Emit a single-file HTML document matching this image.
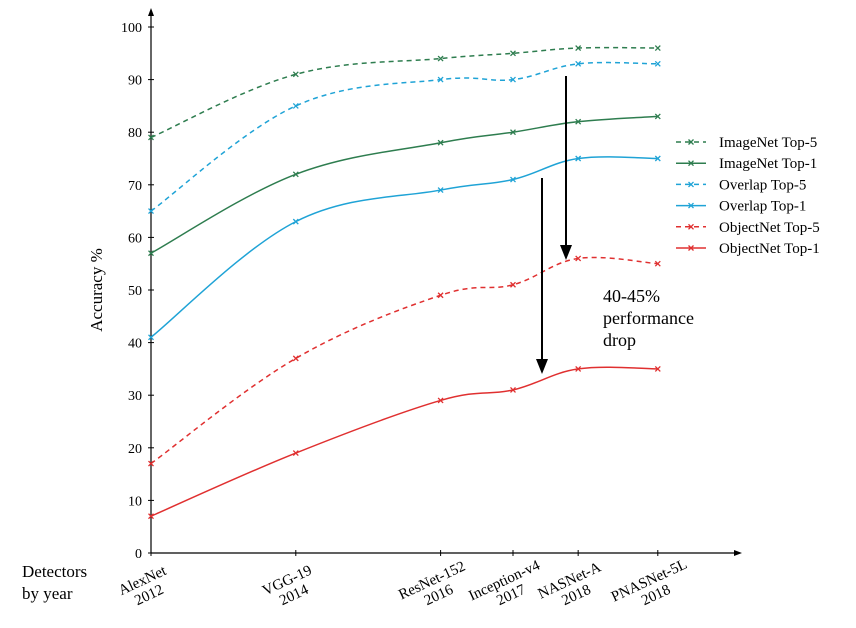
<!DOCTYPE html>
<html><head><meta charset="utf-8"><style>
body{margin:0;background:#fff;}
svg text{font-family:"Liberation Serif",serif;}
</style></head><body>
<svg id="chart" width="856" height="623" xmlns="http://www.w3.org/2000/svg">
<g id="axes"></g><g id="series"></g><g id="legend"></g>
<g>
<line x1="566" y1="76" x2="566" y2="246" stroke="#000" stroke-width="2"/>
<path d="M560,245 L572,245 L566,260 Z" fill="#000"/></g>
<g>
<line x1="542" y1="178" x2="542" y2="360" stroke="#000" stroke-width="2"/>
<path d="M536,359 L548,359 L542,374 Z" fill="#000"/></g>
<text x="603" y="302" font-size="18"><tspan x="603">40-45%</tspan><tspan x="603" dy="22">performance</tspan><tspan x="603" dy="22">drop</tspan></text>
<text x="22" y="577" font-size="17"><tspan x="22">Detectors</tspan><tspan x="22" dy="22">by year</tspan></text>
<text transform="translate(102,290) rotate(-90)" text-anchor="middle" font-size="17">Accuracy %</text>
</svg>
<script>
const categories=["AlexNet|2012","VGG-19|2014","ResNet-152|2016","Inception-v4|2017","NASNet-A|2018","PNASNet-5L|2018"];
const catPos=[0,2,4,5,5.9,7];
const yTicks=[0,10,20,30,40,50,60,70,80,90,100];
const seriesNames=["ImageNet Top-5","ImageNet Top-1","Overlap Top-5","Overlap Top-1","ObjectNet Top-5","ObjectNet Top-1"];
const imagenetTop5=[79,91,94,95,96,96];
const imagenetTop1=[57,72,78,80,82,83];
const overlapTop5=[65,85,90,90,93,93];
const overlapTop1=[41,63,69,71,75,75];
const objectnetTop5=[17,37,49,51,56,55];
const objectnetTop1=[7,19,29,31,35,35];
const seriesData=[imagenetTop5,imagenetTop1,overlapTop5,overlapTop1,objectnetTop5,objectnetTop1];
const colors=["#2e7d4f","#2e7d4f","#1fa3d6","#1fa3d6","#e03030","#e03030"];
const dashed=[true,false,true,false,true,false];
const NS="http://www.w3.org/2000/svg";
const x=p=>151+p*72.4;
const y=v=>553-v*5.26;
function mk(t,a,p){const e=document.createElementNS(NS,t);for(const k in a)e.setAttribute(k,a[k]);p.appendChild(e);return e;}
function cross(cx,cy,c,p){const g=mk('g',{stroke:c,'stroke-width':1.3},p);
 mk('line',{x1:cx-2.5,y1:cy-2.5,x2:cx+2.5,y2:cy+2.5},g);mk('line',{x1:cx-2.5,y1:cy+2.5,x2:cx+2.5,y2:cy-2.5},g);return g;}
const ax=document.getElementById('axes');
let l=mk('line',{x1:151,y1:553,x2:151,y2:14,stroke:'#000','stroke-width':1.2},ax);


l=mk('line',{x1:151,y1:553,x2:736,y2:553,stroke:'#000','stroke-width':1.2},ax);


mk('path',{d:'M148,16 L151,8 L154,16 Z',fill:'#000'},ax);
mk('path',{d:'M734,550 L742,553 L734,556 Z',fill:'#000'},ax);
yTicks.forEach(v=>{
 mk('line',{x1:148,y1:y(v),x2:154,y2:y(v),stroke:'#000'},ax);
 const t=mk('text',{x:142,y:y(v)+5,'text-anchor':'end','font-size':14},ax);t.textContent=v;
 
 
});
categories.forEach((c,i)=>{
 const px=x(catPos[i]);
 mk('line',{x1:px,y1:550,x2:px,y2:556,stroke:'#000'},ax);
 const [a,b]=c.split('|');
 const g=mk('g',{transform:`translate(${px},566) rotate(-25)`},ax);
 
 
 const t1=mk('text',{x:-14,y:14,'text-anchor':'middle','font-size':15},g);t1.textContent=a;
 const t2=mk('text',{x:-14,y:30,'text-anchor':'middle','font-size':15},g);t2.textContent=b;
});
function curve(pts){let d=`M${pts[0][0]},${pts[0][1]}`;
 for(let i=0;i<pts.length-1;i++){const p0=pts[Math.max(0,i-1)],p1=pts[i],p2=pts[i+1],p3=pts[Math.min(pts.length-1,i+2)];
 const k=0.18;d+=` C${p1[0]+(p2[0]-p0[0])*k},${p1[1]+(p2[1]-p0[1])*k} ${p2[0]-(p3[0]-p1[0])*k},${p2[1]-(p3[1]-p1[1])*k} ${p2[0]},${p2[1]}`;}
 return d;}
const sg=document.getElementById('series');
seriesData.forEach((s,si)=>{
 const pts=s.map((v,i)=>[x(catPos[i]),y(v)]);
 const p=mk('path',{d:curve(pts),fill:'none',stroke:colors[si],'stroke-width':1.5,'stroke-dasharray':dashed[si]?'5,4':'none'},sg);
 
 
 pts.forEach(q=>{const m=cross(q[0],q[1],colors[si],sg);
 
 });
});
const lg=document.getElementById('legend');
seriesNames.forEach((n,i)=>{
 const yy=142+i*21.2;
 const g=mk('g',{},lg);
 
 
 mk('line',{x1:676,y1:yy,x2:706,y2:yy,stroke:colors[i],'stroke-width':1.5,'stroke-dasharray':dashed[i]?'5,4':'none'},g);
 cross(691,yy,colors[i],g);
 const t=mk('text',{x:719,y:yy+5,'font-size':15},g);t.textContent=n;
});
</script>
</body></html>
